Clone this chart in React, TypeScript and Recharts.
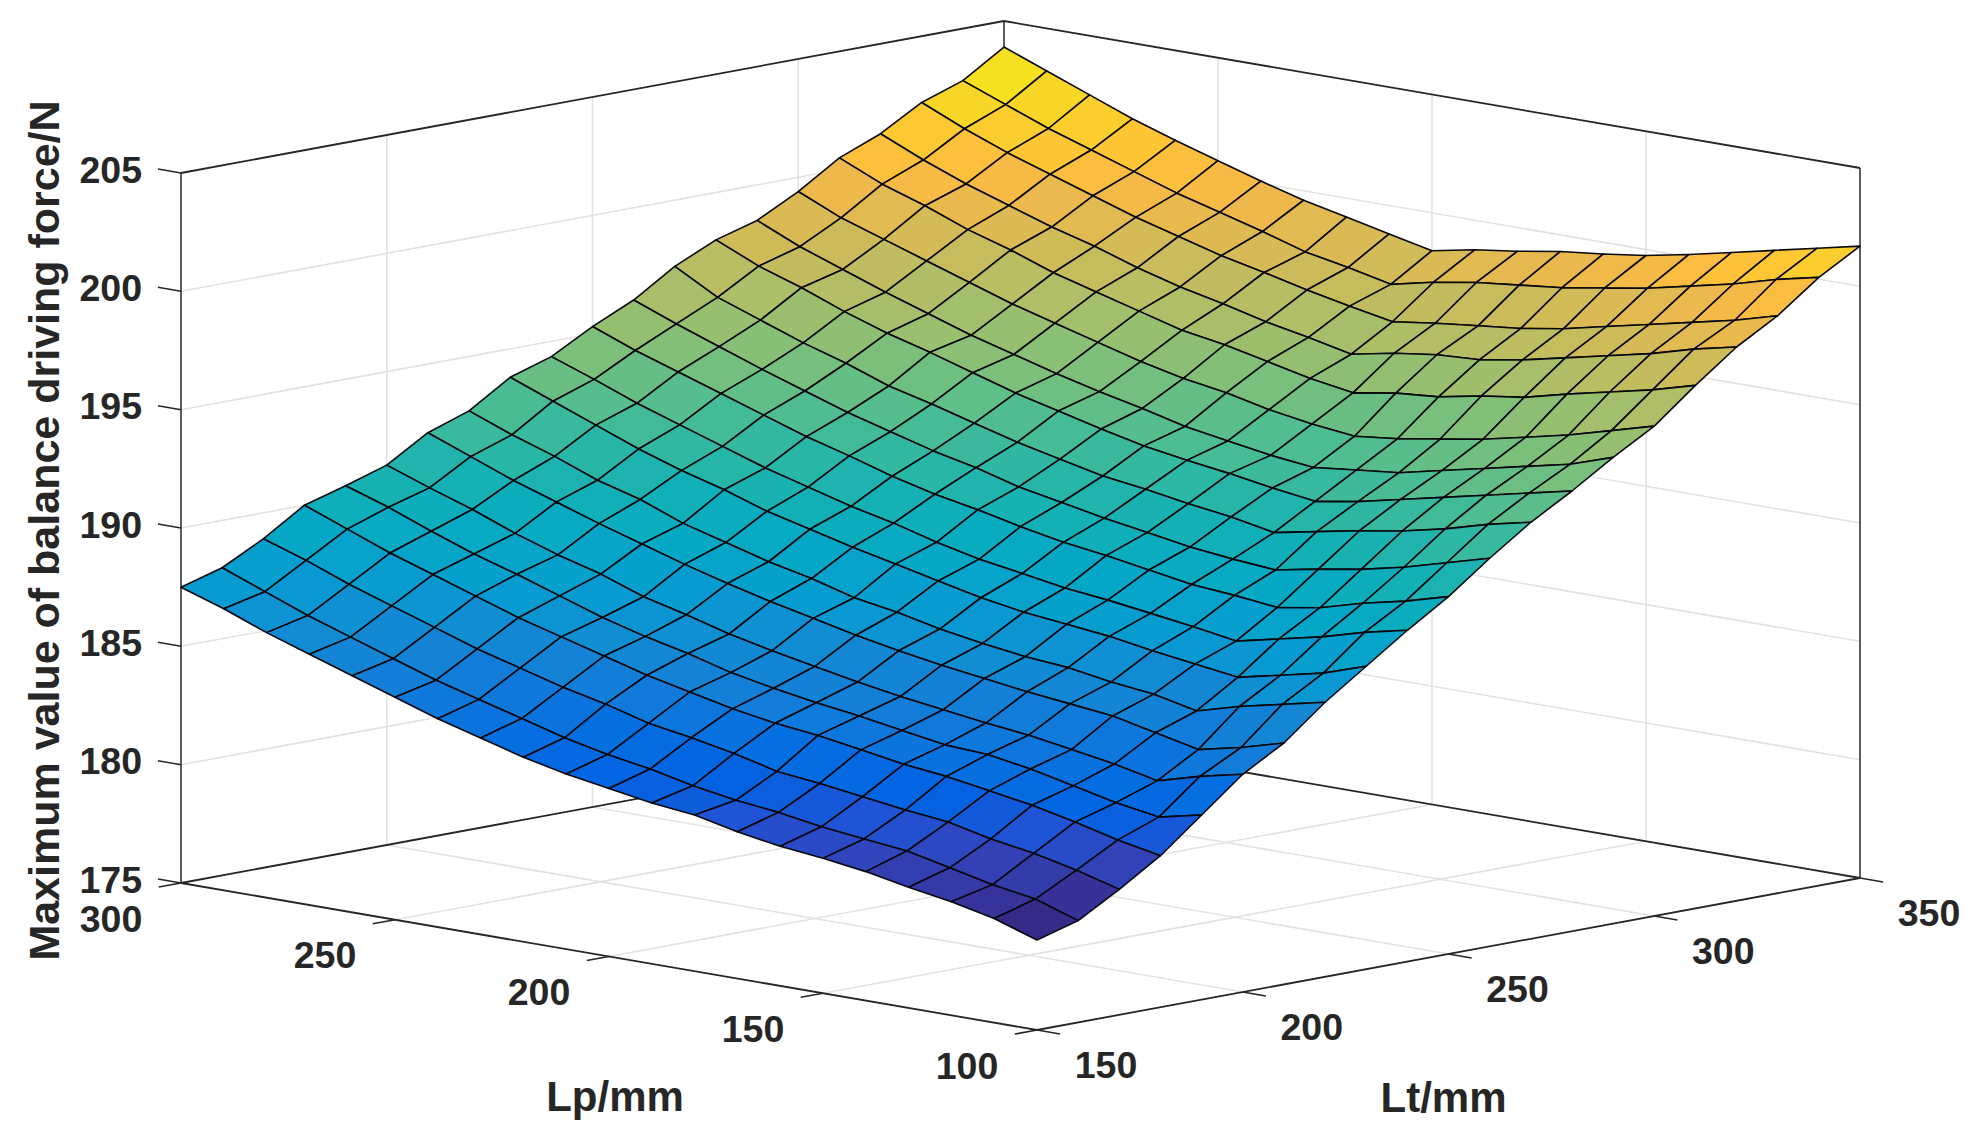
import React from 'react';
import { ScatterChart, Scatter, XAxis, YAxis } from 'recharts';

// Axis ticks
const lpTicks = [300, 250, 200, 150, 100];
const ltTicks = [150, 200, 250, 300, 350];
const zTicks = [175, 180, 185, 190, 195, 200, 205];
const lpValues = [300, 290, 280, 270, 260, 250, 240, 230, 220, 210, 200, 190, 180, 170, 160, 150, 140, 130, 120, 110, 100];

// Surface values: one array per Lt, in the order of lpValues
const zLt150 = [187.5,186.9,186.2,185.6,185.0,184.4,183.8,183.3,182.8,182.4,182.1,181.8,181.6,181.2,180.9,180.7,180.45,180.1,179.8,179.4,178.8];
const zLt160 = [188.0,187.3,186.6,186.0,185.4,184.8,184.3,183.8,183.3,182.9,182.6,182.2,181.9,181.7,181.4,181.2,181.0,180.6,180.2,179.9,179.3];
const zLt170 = [188.9,188.3,187.6,187.0,186.4,185.8,185.3,184.8,184.4,183.9,183.6,183.25,182.8,182.6,182.35,182.1,181.9,181.5,181.2,180.8,180.3];
const zLt180 = [190.0,189.3,188.6,188.0,187.4,186.8,186.3,185.8,185.3,184.9,184.5,184.2,184.0,183.7,183.4,183.2,182.9,182.6,182.2,181.75,181.4];
const zLt190 = [190.5,189.9,189.2,188.55,188.0,187.4,186.8,186.3,185.9,185.4,185.05,184.75,184.5,184.2,183.9,183.8,183.5,183.1,182.7,182.4,182.8];
const zLt200 = [191.05,190.4,189.8,189.1,188.5,188.0,187.35,186.9,186.4,186.0,185.65,185.3,185.0,184.75,184.5,184.3,184.0,183.7,183.3,183.8,184.2];
const zLt210 = [192.1,191.4,190.7,190.1,189.5,188.95,188.4,187.9,187.45,187.05,186.65,186.3,186.0,185.75,185.5,185.3,185.1,184.7,184.3,184.7,185.2];
const zLt220 = [192.7,192.0,191.4,190.7,190.2,189.5,189.0,188.5,188.1,187.6,187.3,186.9,186.6,186.35,186.2,185.9,185.7,185.3,185.8,186.2,186.6];
const zLt230 = [193.8,193.1,192.4,191.7,191.1,190.6,190.0,189.55,189.1,188.7,188.3,187.9,187.6,187.4,187.2,186.9,186.65,186.4,186.8,187.2,187.8];
const zLt240 = [194.35,193.7,193.0,192.4,191.8,191.2,190.7,190.2,189.8,189.3,188.9,188.6,188.3,188.1,187.85,187.6,187.3,187.7,188.1,188.6,189.0];
const zLt250 = [195.3,194.6,194.0,193.4,192.8,192.2,191.7,191.15,190.7,190.35,189.95,189.6,189.35,189.05,188.75,188.6,188.4,188.7,189.2,189.6,190.1];
const zLt260 = [196.1,195.4,194.75,194.1,193.5,192.9,192.4,191.9,191.5,191.0,190.65,190.3,190.0,189.7,189.5,189.35,189.7,190.0,190.4,190.9,191.4];
const zLt270 = [197.2,196.2,195.55,194.9,194.35,193.7,193.25,192.75,192.25,191.85,191.45,191.2,190.9,190.65,190.3,190.65,191.0,191.3,191.7,192.2,192.6];
const zLt280 = [198.0,197.2,196.6,195.9,195.3,194.8,194.25,193.7,193.25,192.8,192.4,192.1,191.85,191.55,191.3,191.6,192.0,192.4,192.8,193.2,193.6];
const zLt290 = [198.5,197.7,197.05,196.4,195.8,195.2,194.7,194.2,193.75,193.35,192.9,192.6,192.3,192.1,192.3,192.5,192.9,193.3,193.7,194.1,194.7];
const zLt300 = [199.4,198.6,198.0,197.4,196.8,196.2,195.7,195.2,194.7,194.3,194.0,193.6,193.3,193.1,193.3,193.6,193.9,194.3,194.7,195.2,195.7];
const zLt310 = [200.5,199.7,199.1,198.4,197.85,197.2,196.7,196.2,195.7,195.4,195.0,194.6,194.3,194.6,194.75,195.1,195.35,195.8,196.2,196.6,197.1];
const zLt320 = [201.2,200.4,199.7,199.1,198.5,198.0,197.4,196.9,196.5,196.05,195.7,195.3,195.65,195.9,196.0,196.3,196.7,197.1,197.5,198.0,198.4];
const zLt330 = [202.2,201.4,200.7,200.1,199.5,198.9,198.4,197.9,197.5,197.07,196.7,196.35,196.6,196.8,197.0,197.3,197.7,198.1,198.5,198.9,199.4];
const zLt340 = [202.8,202.1,201.4,200.8,200.2,199.6,199.1,198.6,198.05,197.7,197.3,197.7,198.0,198.2,198.4,198.7,199.0,199.4,199.8,200.3,200.7];
const zLt350 = [203.9,203.2,202.5,201.8,201.2,200.65,200.1,199.6,199.2,198.8,198.4,198.75,199.0,199.3,199.5,199.75,200.1,200.5,200.9,201.3,201.7];

const surfaceRows = [
  { lt: 350, z: zLt350 }, { lt: 340, z: zLt340 }, { lt: 330, z: zLt330 }, { lt: 320, z: zLt320 },
  { lt: 310, z: zLt310 }, { lt: 300, z: zLt300 }, { lt: 290, z: zLt290 }, { lt: 280, z: zLt280 },
  { lt: 270, z: zLt270 }, { lt: 260, z: zLt260 }, { lt: 250, z: zLt250 }, { lt: 240, z: zLt240 },
  { lt: 230, z: zLt230 }, { lt: 220, z: zLt220 }, { lt: 210, z: zLt210 }, { lt: 200, z: zLt200 },
  { lt: 190, z: zLt190 }, { lt: 180, z: zLt180 }, { lt: 170, z: zLt170 }, { lt: 160, z: zLt160 },
  { lt: 150, z: zLt150 },
];

// MATLAB parula colormap
const parula = [
  [.2081,.1663,.5292],[.2123,.2138,.6270],[.1959,.2645,.7279],[.1253,.3242,.8303],[.0117,.3875,.8820],
  [.0165,.4266,.8786],[.0498,.4586,.8641],[.0723,.4887,.8467],[.0793,.5200,.8312],[.0641,.5570,.8240],
  [.0343,.5966,.8199],[.0239,.6287,.8038],[.0228,.6535,.7768],[.0384,.6743,.7436],[.0843,.6928,.7062],
  [.1453,.7098,.6646],[.2178,.7250,.6193],[.3022,.7376,.5712],[.3953,.7459,.5244],[.4871,.7491,.4840],
  [.5709,.7485,.4494],[.6473,.7456,.4188],[.7184,.7411,.3905],[.7858,.7356,.3633],[.8507,.7299,.3360],
  [.9139,.7258,.3063],[.9739,.7314,.2666],[.9990,.7653,.2164],[.9880,.8066,.1794],[.9697,.8481,.1475],
  [.9589,.8949,.1132],[.9661,.9514,.0755],[.9763,.9831,.0538],
];

const allZ = surfaceRows.flatMap((r) => r.z);
const zMin = Math.min(...allZ);
const zMax = Math.max(...allZ);

function parulaColor(z: number) {
  const t = Math.max(0, Math.min(1, (z - zMin) / (zMax - zMin))) * (parula.length - 1);
  const k = Math.min(parula.length - 2, Math.floor(t));
  const f = t - k;
  const c = parula[k].map((v, n) => Math.round(255 * (v + (parula[k + 1][n] - v) * f)));
  return `rgb(${c[0]},${c[1]},${c[2]})`;
}

// Orthographic view of the 3D box, expressed in the chart's hidden axes
const VIEW = { x0: 181, y0: 883, uX: 856, uY: 147, vX: 823, vY: -152, zPx: 710 };
function project(lp: number, lt: number, z: number) {
  const u = (300 - lp) / 200;
  const v = (lt - 150) / 200;
  const w = (z - 175) / 30;
  return {
    x: VIEW.x0 + VIEW.uX * u + VIEW.vX * v,
    y: VIEW.y0 + VIEW.uY * u + VIEW.vY * v - VIEW.zPx * w,
  };
}

const surfacePoints = surfaceRows.flatMap((row, r) =>
  lpValues.map((lp, c) => ({ ...project(lp, row.lt, row.z[c]), r, c, zv: row.z[c] })),
);

const pixelCache: Record<string, [number, number]> = {};
function FacetShape(props: any) {
  const { cx, cy, payload } = props;
  if (cx == null || cy == null) return <g />;
  const { r, c, zv } = payload;
  pixelCache[`${r},${c}`] = [cx, cy];
  if (r === 0 || c === 0) return <g />;
  const a = pixelCache[`${r},${c - 1}`];
  const b = pixelCache[`${r - 1},${c - 1}`];
  const d = pixelCache[`${r - 1},${c}`];
  if (!a || !b || !d) return <g />;
  return (
    <polygon
      points={`${cx},${cy} ${a[0]},${a[1]} ${b[0]},${b[1]} ${d[0]},${d[1]}`}
      fill={parulaColor(zv)}
      stroke="#08080e"
      strokeWidth={1.6}
      strokeLinejoin="round"
    />
  );
}

const Nothing = () => <g />;
const FONT = '"Liberation Sans", Arial, sans-serif';
const INK = '#262626';
const GRID = '#e2e2e2';

function TextShape(props: any) {
  const { cx, cy, payload } = props;
  if (cx == null || cy == null) return <g />;
  const x = cx + (payload.dx || 0);
  const y = cy + (payload.dy || 0);
  return (
    <text
      x={x}
      y={y}
      fontFamily={FONT}
      fontWeight="bold"
      fontSize={payload.size}
      fill={INK}
      textAnchor={payload.anchor}
      dominantBaseline="central"
      transform={payload.rotate ? `rotate(${payload.rotate} ${x} ${y})` : undefined}
    >
      {payload.text}
    </text>
  );
}

type P = { x: number; y: number };
const segs: { a: P; b: P; color: string; w: number }[] = [];
const add = (a: P, b: P, color: string, w: number) => segs.push({ a, b, color, w });

// gridlines on the two back walls and the floor
zTicks.slice(1, -1).forEach((z) => {
  add(project(300, 150, z), project(300, 350, z), GRID, 1.6);
  add(project(300, 350, z), project(100, 350, z), GRID, 1.6);
});
ltTicks.slice(1, -1).forEach((lt) => {
  add(project(300, lt, 175), project(300, lt, 205), GRID, 1.6);
  add(project(300, lt, 175), project(100, lt, 175), GRID, 1.6);
});
lpTicks.slice(1, -1).forEach((lp) => {
  add(project(lp, 350, 175), project(lp, 350, 205), GRID, 1.6);
  add(project(lp, 150, 175), project(lp, 350, 175), GRID, 1.6);
});
// box edges
add(project(300, 150, 175), project(300, 150, 205), INK, 1.5);
add(project(100, 350, 175), project(100, 350, 205), INK, 1.5);
add(project(300, 350, 175), project(300, 350, 205), INK, 1.5);
add(project(300, 150, 205), project(300, 350, 205), INK, 1.8);
add(project(300, 350, 205), project(100, 350, 205), INK, 1.8);
add(project(300, 150, 175), project(300, 350, 175), INK, 1.8);
add(project(300, 350, 175), project(100, 350, 175), INK, 1.8);
add(project(300, 150, 175), project(100, 150, 175), INK, 1.8);
add(project(100, 150, 175), project(100, 350, 175), INK, 1.8);
// tick marks, pointing out of the box along the other floor direction
const TICK_LEN_LT = 5.4;
const TICK_LEN_LP = 5.4;
lpTicks.forEach((lp) => add(project(lp, 150, 175), project(lp, 150 - TICK_LEN_LT, 175), INK, 1.5));
ltTicks.forEach((lt) => add(project(100, lt, 175), project(100 - TICK_LEN_LP, lt, 175), INK, 1.5));
zTicks.forEach((z) => add(project(300, 150, z), project(300 + TICK_LEN_LP, 150, z), INK, 1.5));

const lineTicks = segs;

const textData = [
  ...zTicks.map((z) => ({ ...project(300, 150, z), text: String(z), size: 37.5, anchor: 'end', dx: -39, dy: -3.5 })),
  ...lpTicks.map((lp) => ({ ...project(lp, 150, 175), text: String(lp), size: 37.5, anchor: 'middle', dx: -70, dy: 35.5 })),
  ...ltTicks.map((lt) => ({ ...project(100, lt, 175), text: String(lt), size: 37.5, anchor: 'middle', dx: 69, dy: 34.5 })),
  { ...project(200, 150, 175), text: 'Lp/mm', size: 42, anchor: 'middle', dx: 6, dy: 140 },
  { ...project(100, 250, 175), text: 'Lt/mm', size: 42, anchor: 'middle', dx: -5, dy: 143 },
  { ...project(300, 150, 190), text: 'Maximum value of balance driving force/N', size: 43, anchor: 'middle', dx: -137, dy: 2.5, rotate: -90 },
];

export default function App() {
  return (
    <div style={{ position: 'absolute', left: 0, top: 0, width: 1983, height: 1145, background: '#fff' }}>
      <ScatterChart width={1983} height={1145} margin={{ top: 0, right: 0, bottom: 0, left: 0 }}>
        <XAxis type="number" dataKey="x" domain={[0, 1983]} hide allowDataOverflow />
        <YAxis type="number" dataKey="y" domain={[0, 1145]} reversed hide allowDataOverflow width={0} />
        {lineTicks.map((s, i) => (
          <Scatter
            key={i}
            data={[s.a, s.b]}
            line={{ stroke: s.color, strokeWidth: s.w }}
            shape={Nothing}
            isAnimationActive={false}
          />
        ))}
        <Scatter data={surfacePoints} shape={FacetShape} isAnimationActive={false} />
        <Scatter data={textData} shape={TextShape} isAnimationActive={false} />
      </ScatterChart>
    </div>
  );
}
